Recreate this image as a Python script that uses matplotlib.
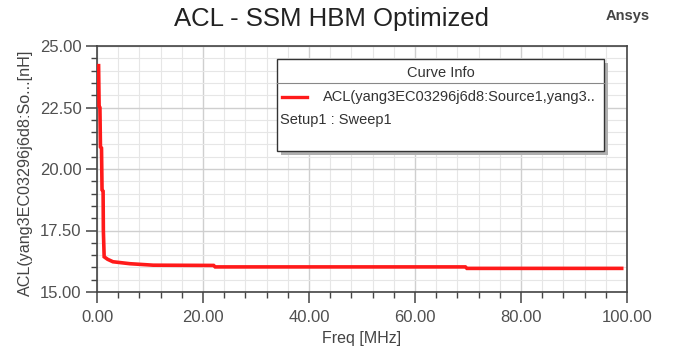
import matplotlib.pyplot as plt
from matplotlib.patches import Rectangle
from matplotlib.lines import Line2D
from matplotlib.ticker import MultipleLocator, FormatStrFormatter

plt.rcParams['font.family'] = ['Liberation Sans', 'DejaVu Sans']

# curve values
freq = [0.3, 0.4, 0.55, 0.65, 0.85, 0.95, 1.15, 1.2, 1.35, 2.0, 3.0, 6.2, 10.6, 22.0, 22.3, 69.5, 69.8, 99.0]
acl = [24.2, 22.55, 22.5, 20.9, 20.85, 19.15, 19.1, 17.5, 16.43, 16.33, 16.23, 16.15, 16.09, 16.08, 16.02, 16.02, 15.96, 15.96]

title = "ACL - SSM HBM Optimized"
ylabel = "ACL(yang3EC03296j6d8:So...[nH]"
xlabel = "Freq [MHz]"
legend_title = "Curve Info"
legend_curve = "ACL(yang3EC03296j6d8:Source1,yang3.."
legend_setup = "Setup1 : Sweep1"

W, H = 676, 356
fig = plt.figure(figsize=(W / 100, H / 100), dpi=100)
ax = fig.add_axes([97 / W, 1 - 292 / H, (627 - 97) / W, (292 - 46) / H])

ax.plot(freq, acl, color='#ff1a1a', lw=2.6, solid_joinstyle='miter', zorder=3)

ax.set_xlim(0, 100)
ax.set_ylim(15, 25)
ax.xaxis.set_major_locator(MultipleLocator(20))
ax.xaxis.set_minor_locator(MultipleLocator(4))
ax.yaxis.set_major_locator(MultipleLocator(2.5))
ax.yaxis.set_minor_locator(MultipleLocator(0.5))
ax.xaxis.set_major_formatter(FormatStrFormatter('%.2f'))
ax.yaxis.set_major_formatter(FormatStrFormatter('%.2f'))

ax.grid(which='minor', color='#e6e6e6', lw=0.8)
ax.grid(which='major', color='#cfcfcf', lw=1.0)
ax.set_axisbelow(True)

for s in ax.spines.values():
    s.set_color('#444444')
    s.set_linewidth(1.2)

ax.tick_params(which='major', direction='out', length=8, width=1.1,
               color='#444444', labelsize=12, labelcolor='#505050')
ax.tick_params(axis='y', which='major', pad=3)
ax.tick_params(axis='x', which='major', pad=5)
ax.tick_params(which='minor', direction='out', length=4.5, width=1.0, color='#444444')

ax.set_xlabel(xlabel, fontsize=11.5, color='#444444')
ax.set_ylabel(ylabel, fontsize=11.6, color='#444444')
ax.xaxis.set_label_coords(0.5, (292 - 331) / 246)
ax.yaxis.set_label_coords((33 - 97) / 530, 0.485)

fig.text(331 / W, 1 - 19 / H, title, fontsize=18.5, color='#222222', ha='center', va='center')
fig.text(628 / W, 1 - 16 / H, "Ansys", fontsize=10.5, fontweight='bold', color='#444444',
         ha='center', va='center')

# curve info box
def fx(px):
    return px / W

def fy(py):
    return 1 - py / H

tf = fig.transFigure
bl, br, bt, bb = 277, 604, 59, 151
fig.patches.append(Rectangle((fx(bl + 4), fy(bb + 4)), fx(br - bl), (bb - bt) / H,
                             transform=tf, facecolor='#b0b0b0', edgecolor='none', zorder=5))
fig.patches.append(Rectangle((fx(bl), fy(bb)), fx(br - bl), (bb - bt) / H,
                             transform=tf, facecolor='white', edgecolor='#333333', lw=1.0, zorder=6))
fig.lines.append(Line2D([fx(bl), fx(br)], [fy(83), fy(83)], transform=tf,
                        color='#888888', lw=0.8, zorder=7))
fig.text(fx(441), fy(73), legend_title, fontsize=10.5, color='#333333',
         ha='center', va='center', zorder=8)
fig.lines.append(Line2D([fx(282), fx(307)], [fy(97), fy(97)], transform=tf,
                        color='#ff1a1a', lw=2.4, zorder=7))
fig.text(fx(323), fy(97), legend_curve, fontsize=10.5, color='#333333',
         ha='left', va='center', zorder=8)
fig.text(fx(280), fy(120), legend_setup, fontsize=10.5, color='#333333',
         ha='left', va='center', zorder=8)

fig.savefig('out.png', dpi=100)
